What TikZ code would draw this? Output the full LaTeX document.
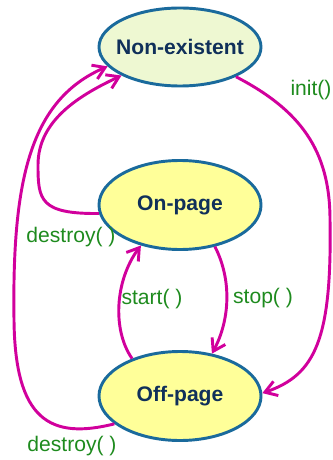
\documentclass[tikz,border=0pt]{standalone}
\usepackage{fontspec}
\setmainfont{Liberation Sans}
\usetikzlibrary{arrows.meta,shapes.geometric}

\definecolor{stateborder}{HTML}{1A6A9C}
\definecolor{statefill}{HTML}{FFFF99}
\definecolor{nonefill}{HTML}{EEF8D2}
\definecolor{statetext}{HTML}{10305A}
\definecolor{transpink}{HTML}{D1009C}
\definecolor{lblgreen}{HTML}{1E8B1E}

\begin{document}
\begin{tikzpicture}[x=0.03cm, y=-0.03cm,
  >={Straight Barb[length=3.5mm,width=4.5mm]},
  state/.style={ellipse, draw=stateborder, line width=2.5pt, fill=statefill,
    text=statetext, font=\fontsize{18}{20}\selectfont\bfseries,
    minimum width=4.86cm, minimum height=2.67cm, inner sep=0pt},
  trans/.style={->, draw=transpink, line width=2.5pt},
  lbl/.style={text=lblgreen, font=\fontsize{18}{20}\selectfont}]

  \useasboundingbox (0,0) rectangle (332,460);

  % Zustaende
  \node[state, fill=nonefill, minimum height=2.34cm, inner xsep=-0.2cm] (NonEx) at (180,47) {Non-existent};
  \node[state] (OnPage)  at (180,205) {On-page};
  \node[state] (OffPage) at (180,396) {Off-page};

  % Uebergaenge
  \draw[trans] (NonEx.-28) .. controls (300,110) and (330,150) .. (330,220)
               .. controls (332,340) and (315,375) .. (OffPage.2);
  \draw[trans] (OnPage.186) .. controls (40,214) and (38,200) .. (38,165)
               .. controls (38,120) and (80,95) .. (NonEx.206);
  \draw[trans] (OffPage.203) .. controls (50,440) and (15,420) .. (14,320)
               .. controls (12,180) and (30,100) .. (NonEx.195);
  \draw[trans] (OnPage.-50) .. controls (232,280) and (230,320) .. (OffPage.53);
  \draw[trans] (OffPage.142) .. controls (112,330) and (115,280) .. (OnPage.226);

  \node[lbl] (LInit)   at (311,90)  {init()};
  \node[lbl] (LDestA)  at (71,237)  {destroy( )};
  \node[lbl] (LDestB)  at (72,446)  {destroy( )};
  \node[lbl] (LStart)  at (152,299) {start( )};
  \node[lbl] (LStop)   at (263,298) {stop( )};
\end{tikzpicture}
\end{document}
